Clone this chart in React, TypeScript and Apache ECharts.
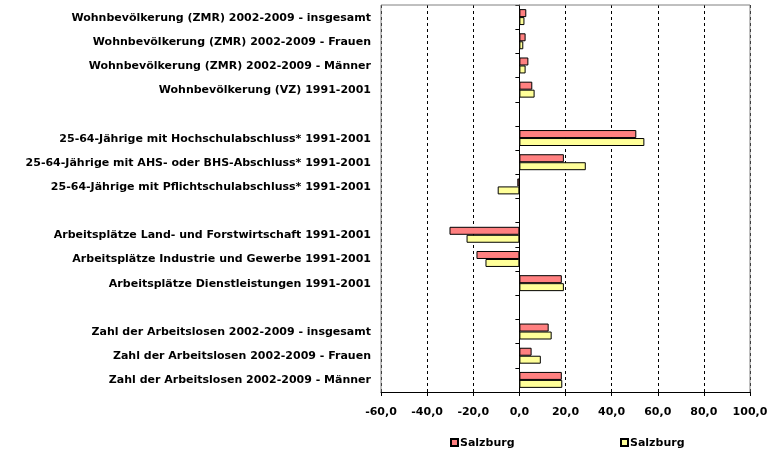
import React, { useEffect, useRef } from "react";
import * as echarts from "echarts";

const categories: string[] = [
  "Wohnbevölkerung (ZMR) 2002-2009 - insgesamt",
  "Wohnbevölkerung (ZMR) 2002-2009 - Frauen",
  "Wohnbevölkerung (ZMR) 2002-2009 - Männer",
  "Wohnbevölkerung (VZ) 1991-2001",
  "",
  "25-64-Jährige mit Hochschulabschluss* 1991-2001",
  "25-64-Jährige mit AHS- oder BHS-Abschluss* 1991-2001",
  "25-64-Jährige mit Pflichtschulabschluss* 1991-2001",
  "",
  "Arbeitsplätze Land- und Forstwirtschaft 1991-2001",
  "Arbeitsplätze Industrie und Gewerbe 1991-2001",
  "Arbeitsplätze Dienstleistungen 1991-2001",
  "",
  "Zahl der Arbeitslosen 2002-2009 - insgesamt",
  "Zahl der Arbeitslosen 2002-2009 - Frauen",
  "Zahl der Arbeitslosen 2002-2009 - Männer",
];

const seriesNames: string[] = ["Salzburg A", "Salzburg B"];
const legendLabel = "Salzburg";

const valuesA: (number | null)[] = [3.0, 2.7, 3.9, 5.6, null, 50.7, 19.3, -0.9, null, -30.3, -18.6, 18.4, null, 12.7, 5.3, 18.4];
const valuesB: (number | null)[] = [2.2, 1.7, 2.7, 6.6, null, 54.2, 28.8, -9.4, null, -22.9, -14.7, 19.3, null, 14.0, 9.3, 18.6];

const xMin = -60;
const xMax = 100;
const xInterval = 20;

const FONT = "DejaVu Sans";

export default function App() {
  const ref = useRef<HTMLDivElement>(null);
  useEffect(() => {
    if (!ref.current) return;
    const chart = echarts.init(ref.current, undefined, { renderer: "svg" });
    const gridLeft = 381;
    const gridTop = 5;
    const gridRight = 750;
    const gridBottom = 392;
    const textStyle = { fontFamily: FONT, fontWeight: "bold" as const, fontSize: 11, color: "#000" };
    chart.setOption({
      animation: false,
      textStyle: { fontFamily: FONT },
      grid: { left: gridLeft, top: gridTop, width: gridRight - gridLeft, height: gridBottom - gridTop, containLabel: false },
      legend: [
        {
          data: [seriesNames[0]],
          left: 445,
          top: 432,
          icon: "rect",
          itemWidth: 7,
          itemHeight: 7,
          formatter: () => legendLabel,
          textStyle: { ...textStyle, padding: [0, 0, 0, -3] },
        },
        {
          data: [seriesNames[1]],
          left: 615,
          top: 432,
          icon: "rect",
          itemWidth: 7,
          itemHeight: 7,
          formatter: () => legendLabel,
          textStyle: { ...textStyle, padding: [0, 0, 0, -3] },
        },
      ],
      xAxis: {
        type: "value",
        min: xMin,
        max: xMax,
        interval: xInterval,
        axisLine: { show: true, onZero: false, lineStyle: { color: "#000", width: 1 } },
        axisTick: { show: true, length: 4, lineStyle: { color: "#000" } },
        axisLabel: {
          ...textStyle,
          margin: 14,
          formatter: (v: number) => v.toFixed(1).replace(".", ","),
        },
        splitLine: { show: true, lineStyle: { color: "#000", type: [3, 3], width: 1 } },
      },
      yAxis: [
        {
          type: "category",
          data: categories,
          inverse: true,
          position: "left",
          axisLine: { show: false, onZero: false },
          axisTick: { show: false },
          axisLabel: { ...textStyle, margin: 10, interval: 0 },
          splitLine: { show: false },
        },
        {
          type: "category",
          data: categories,
          inverse: true,
          position: "left",
          axisLine: { show: true, onZero: true, lineStyle: { color: "#000", width: 1 } },
          axisTick: { show: true, length: 4, interval: 0, lineStyle: { color: "#000" } },
          axisLabel: { show: false },
          splitLine: { show: false },
        },
      ],
      series: [
        {
          name: seriesNames[0],
          type: "bar",
          yAxisIndex: 0,
          data: valuesA,
          barCategoryGap: "34%",
          barGap: "0%",
          itemStyle: { color: "#FF8080", borderColor: "#000", borderWidth: 1 },
        },
        {
          name: seriesNames[1],
          type: "bar",
          yAxisIndex: 0,
          data: valuesB,
          barCategoryGap: "34%",
          barGap: "0%",
          itemStyle: { color: "#FFFF99", borderColor: "#000", borderWidth: 1 },
        },
      ],
      graphic: [
        {
          type: "polyline",
          z: 100,
          silent: true,
          shape: {
            points: [
              [gridLeft, gridBottom],
              [gridLeft, gridTop],
              [gridRight, gridTop],
              [gridRight, gridBottom],
            ],
          },
          style: { stroke: "#808080", lineWidth: 1, fill: null },
        },
      ],
    });
    return () => chart.dispose();
  }, []);
  return <div ref={ref} style={{ position: "fixed", left: 0, top: 0, width: 777, height: 458 }} />;
}
